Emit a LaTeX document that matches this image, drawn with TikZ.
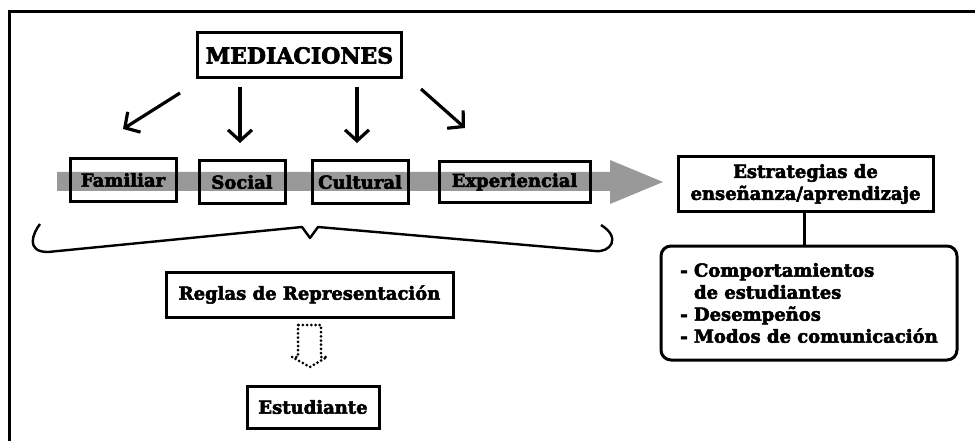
\documentclass[tikz,border=0pt]{standalone}
\usepackage{fontspec}
\setmainfont{DejaVu Serif}[BoldFeatures={FakeBold=3}]
\usetikzlibrary{arrows.meta}
\definecolor{bandgray}{gray}{0.6}
\tikzset{
  box/.style={draw, line width=3pt, inner sep=0pt, font=\bfseries\fontsize{18}{22}\selectfont},
  medarrow/.style={line width=3.2pt, -{Straight Barb[length=11pt,width=24pt,line width=3.2pt]}},
  brace/.style={line width=2.4pt, line join=round},
  frame/.style={line width=3.2pt},
}
\begin{document}
\begin{tikzpicture}[x=1pt,y=-1pt]
\useasboundingbox (0,0) rectangle (975,441);
% frame
\draw[frame] (9.7,441) -- (9.7,11.3) -- (975,11.3);
% gray band arrow
\fill[bandgray] (57,172) -- (610,172) -- (610,160) -- (663,182) -- (610,204) -- (610,191) -- (57,191) -- cycle;
% nodes
\node[box, minimum width=204pt, minimum height=45pt, font=\bfseries\fontsize{22}{26}\selectfont] (med) at (299.5,55.5) {MEDIACIONES};
\node[box, minimum width=106pt, minimum height=42pt] (fam) at (123,180) {Familiar};
\node[box, minimum width=86pt, minimum height=42pt] (soc) at (242,182) {Social};
\node[box, minimum width=96pt, minimum height=42pt] (cul) at (360,182) {Cultural};
\node[box, minimum width=151pt, minimum height=40pt] (exp) at (514.5,182) {Experiencial};
\node[box, minimum width=255pt, minimum height=54pt, align=center] (est) at (805.5,184) {Estrategias de\\enseñanza/aprendizaje};
\node[box, rounded corners=10pt, minimum width=296pt, minimum height=114pt, align=left] (list) at (809,303)
  {- Comportamientos\\\phantom{- }de estudiantes\\- Desempeños\\- Modos de comunicación};
\node[box, minimum width=287pt, minimum height=45pt] (reg) at (309.5,294.5) {Reglas de Representación};
\node[box, minimum width=132pt, minimum height=42pt] (stu) at (313,407) {Estudiante};
% arrows from MEDIACIONES
\coordinate (a1s) at (180,93);  \coordinate (a1e) at (123,129);
\coordinate (a2s) at (240,87);  \coordinate (a2e) at (240,143);
\coordinate (a3s) at (357,87);  \coordinate (a3e) at (357,143);
\coordinate (a4s) at (421,89);  \coordinate (a4e) at (465,128);
\draw[medarrow] (a1s) -- (a1e);
\draw[medarrow] (a2s) -- (a2e);
\draw[medarrow] (a3s) -- (a3e);
\draw[medarrow] (a4s) -- (a4e);
% connector
\coordinate (lt) at (804,246);
\draw[line width=3pt] (est.south -| lt) -- (lt);
% brace
\draw[brace] (40,224) .. controls (33,233) and (25,252) .. (48,252) -- (302,227) -- (310,238) -- (318,227) -- (595,251) .. controls (610,253) and (622,238) .. (601,225);
% dotted block arrow
\draw[line width=3pt, dash pattern=on 0pt off 4.2pt, line cap=round] (298,325) -- (298,357) -- (292,357) -- (310,367) -- (327,357) -- (321,357) -- (321,325) -- cycle;
\end{tikzpicture}
\end{document}
